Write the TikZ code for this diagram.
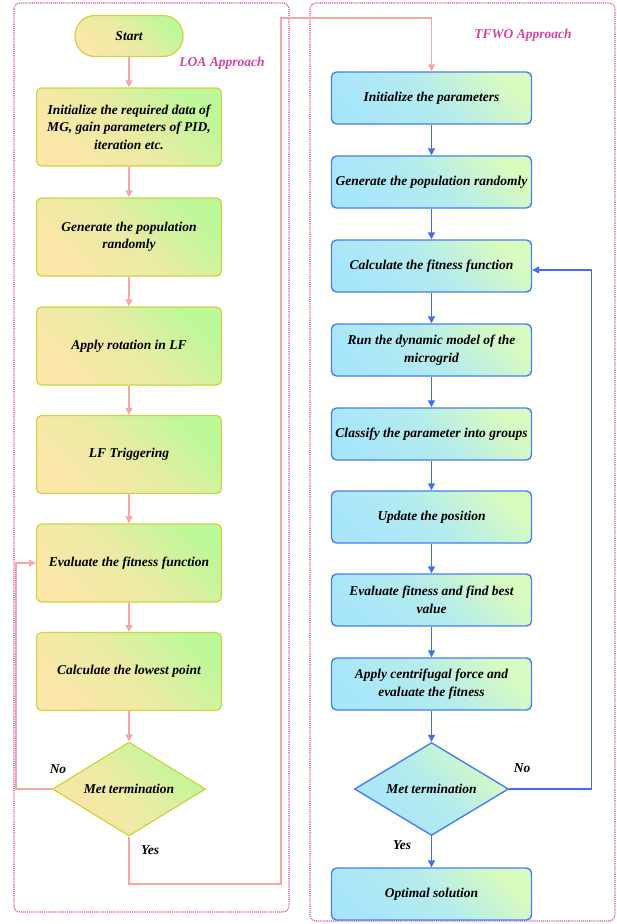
\documentclass[tikz,border=0pt]{standalone}
\usepackage{fontspec}
\setmainfont{Liberation Serif}
\usepackage{tikz}
\usetikzlibrary{arrows.meta}
\usetikzlibrary{shapes.geometric}
\usetikzlibrary{positioning}

\definecolor{loagreen}{HTML}{BDF899}
\definecolor{loayellow}{HTML}{FCE6A9}
\definecolor{loaborder}{HTML}{CCD440}
\definecolor{tfwogreen}{HTML}{D8FBC0}
\definecolor{tfwocyan}{HTML}{A8E6FC}
\definecolor{tfwoborder}{HTML}{4A7DF3}
\definecolor{loaline}{HTML}{F6A7AA}
\definecolor{tfwoline}{HTML}{3E6FF6}
\definecolor{framepink}{HTML}{DE46A4}
\definecolor{labelpink}{HTML}{D444A4}

\tikzset{
  txt/.style={font=\fontsize{13.5}{17.5}\selectfont\bfseries\itshape, align=center},
  loabox/.style={txt, draw=loaborder, line width=1.2pt, rounded corners=5pt,
    top color=loagreen, bottom color=loayellow, middle color=loayellow!70!loagreen,
    shading angle=-45, minimum width=185pt, minimum height=78pt},
  tfwobox/.style={txt, draw=tfwoborder, line width=1.4pt, rounded corners=5pt,
    top color=tfwogreen, bottom color=tfwocyan, middle color=tfwocyan!75!tfwogreen,
    shading angle=-45, minimum width=200pt, minimum height=52pt},
  loadec/.style={loabox, diamond, rounded corners=0pt, aspect=1.63, inner sep=0pt,
    minimum width=153pt, minimum height=94pt},
  tfwodec/.style={tfwobox, diamond, rounded corners=0pt, aspect=1.64, inner sep=0pt,
    minimum width=154pt, minimum height=93pt},
  loaarrow/.style={draw=loaline, line width=1.3pt, -{Triangle[length=7pt,width=7pt]}},
  tfwoarrow/.style={draw=tfwoline, line width=1.4pt, -{Triangle[length=7pt,width=7pt]}},
  framebox/.style={draw=framepink, line width=1.1pt, densely dotted, rounded corners=6pt},
  tag/.style={txt, text=labelpink}
}

\begin{document}
\begin{tikzpicture}[x=1pt, y=-1pt]
    \useasboundingbox (0,0) rectangle (616,924);
    \draw[framebox] (14,3) rectangle (289,912);
    \draw[framebox] (310,3) rectangle (615,921);
    \node[tag] at (222,63) {LOA Approach};
    \node[tag] at (523,35) {TFWO Approach};

    \node[loabox, rounded corners=20pt, minimum width=108pt, minimum height=41pt] (start) at (129,36) {Start};
    \node[loabox] (linit) at (129,127) {Initialize the required data of\\MG, gain parameters of PID,\\iteration etc.};
    \node[loabox] (lgen) at (129,237) {Generate the population\\randomly};
    \node[loabox] (lrot) at (129,346) {Apply rotation in LF};
    \node[loabox] (ltrig) at (129,454.5) {LF Triggering};
    \node[loabox] (leval) at (129,563) {Evaluate the fitness function};
    \node[loabox] (llow) at (129,671.5) {Calculate the lowest point};
    \node[loadec] (lterm) at (129,789) {Met termination};

    \node[tfwobox] (tinit) at (431.5,98) {Initialize the parameters};
    \node[tfwobox] (tgen) at (431.5,182) {Generate the population randomly};
    \node[tfwobox] (tcalc) at (431.5,266) {Calculate the fitness function};
    \node[tfwobox] (trun) at (431.5,350) {Run the dynamic model of the\\microgrid};
    \node[tfwobox] (tclass) at (431.5,434) {Classify the parameter into groups};
    \node[tfwobox] (tupd) at (431.5,517) {Update the position};
    \node[tfwobox] (teval) at (431.5,600) {Evaluate fitness and find best\\value};
    \node[tfwobox] (tcent) at (431.5,684) {Apply centrifugal force and\\evaluate the fitness};
    \node[tfwodec] (tterm) at (431.5,789) {Met termination};
    \node[tfwobox] (topt) at (431.5,894) {Optimal solution};

    \draw[loaarrow] (start) -- (linit);
    \draw[loaarrow] (linit) -- (lgen);
    \draw[loaarrow] (lgen) -- (lrot);
    \draw[loaarrow] (lrot) -- (ltrig);
    \draw[loaarrow] (ltrig) -- (leval);
    \draw[loaarrow] (leval) -- (llow);
    \draw[loaarrow] (llow) -- (lterm);
    \draw[loaarrow] (lterm.west) -- ++(-36,0) |- (leval.west);
    \draw[loaarrow] (lterm.south) |- (281,884) -- (281,18) -| (tinit.north);
    \node[txt] at (58,769) {No};
    \node[txt] at (150,850) {Yes};

    \draw[tfwoarrow] (tinit) -- (tgen);
    \draw[tfwoarrow] (tgen) -- (tcalc);
    \draw[tfwoarrow] (tcalc) -- (trun);
    \draw[tfwoarrow] (trun) -- (tclass);
    \draw[tfwoarrow] (tclass) -- (tupd);
    \draw[tfwoarrow] (tupd) -- (teval);
    \draw[tfwoarrow] (teval) -- (tcent);
    \draw[tfwoarrow] (tcent) -- (tterm);
    \draw[tfwoarrow] (tterm) -- (topt);
    \draw[tfwoarrow] (tterm.east) -- ++(82,0) |- ([yshift=-4pt]tcalc.east);
    \node[txt] at (522,768) {No};
    \node[txt] at (402,845) {Yes};
\end{tikzpicture}
\end{document}
